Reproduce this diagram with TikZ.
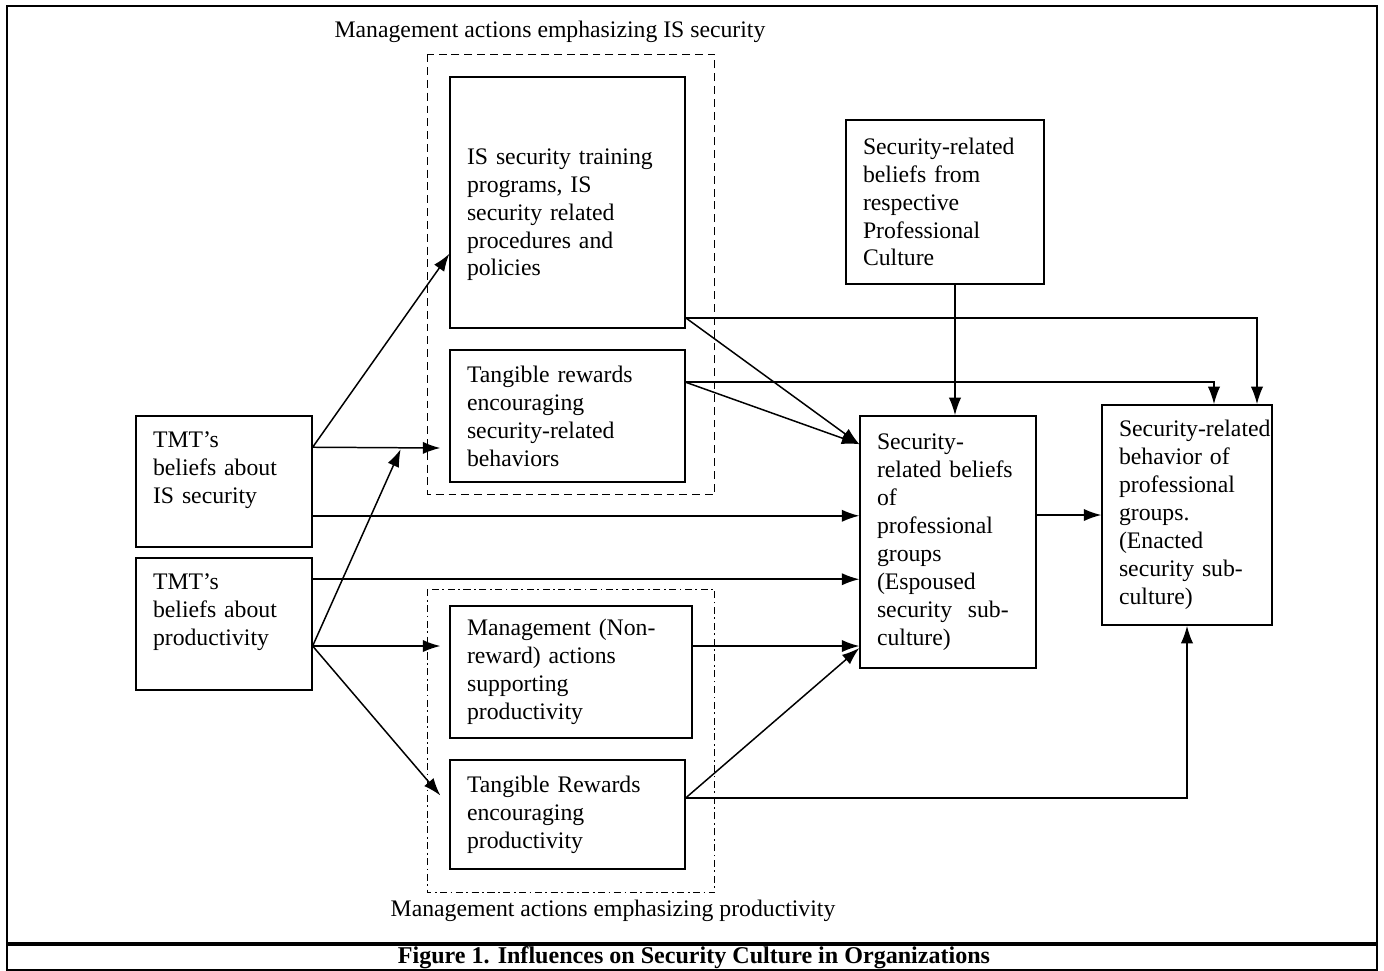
\documentclass[tikz,border=0pt]{standalone}
\usepackage{fontspec}
\setmainfont{Liberation Serif}
\usetikzlibrary{calc, arrows.meta}

\tikzset{
	box/.style={draw, line width=0.9pt, align=left, inner xsep=9.6pt, font=\fontsize{13.5}{15.9}\selectfont},
	link/.style={-{Latex[length=10pt,width=7pt]}, line width=0.85pt},
	secgroup/.style={line width=0.8pt, dash pattern=on 4.5pt off 2.8pt},
	prodgroup/.style={line width=0.8pt, dash pattern=on 4pt off 2pt on 1pt off 2pt},
	grouplabel/.style={font=\fontsize{13.5}{16}\selectfont}
}

\begin{document}
\begin{tikzpicture}[x=0.02cm, y=-0.02cm]
	\useasboundingbox (0,0) rectangle (1384,971);
	% Frame and caption
	\draw[line width=1.2pt] (7,6) rectangle (1377,970);
	\draw[line width=1.8pt] (7,944) -- (1377,944);
	\node[font=\bfseries\fontsize{13.7}{16}\selectfont] (caption) at (694,958) {Figure 1. Influences on Security Culture in Organizations};
	
	% Drawing the boxes
	\node[box, text width=2.84cm, minimum height=2.62cm] (tmtis) at (224,481.5) {TMT’s\\beliefs about\\IS security\\ \mbox{}};
	\node[box, text width=2.84cm, minimum height=2.64cm] (tmtprod) at (224,624) {TMT’s\\beliefs about\\productivity\\ \mbox{}};
	\node[box, text width=4.02cm, minimum height=5.02cm] (training) at (567.5,202.5) {\mbox{}\\[7pt]IS security training\\programs, IS\\security related\\procedures and\\policies};
	\node[box, text width=4.02cm, minimum height=2.64cm] (rewsec) at (567.5,416) {Tangible rewards\\encouraging\\security-related\\behaviors};
	\node[box, text width=4.16cm, minimum height=2.64cm] (nonrew) at (571,672) {Management (Non-\\reward) actions\\supporting\\productivity};
	\node[box, text width=4.02cm, minimum height=2.18cm] (rewprod) at (567.5,814.5) {Tangible Rewards\\encouraging\\productivity};
	\node[box, text width=3.28cm, minimum height=3.28cm] (profcult) at (945,202) {Security-related\\beliefs from\\respective\\Professional\\Culture};
	\node[box, text width=2.84cm, minimum height=5.04cm] (espoused) at (948,542) {Security-\\related beliefs\\of\\professional\\groups\\(Espoused\\security\ \ sub-\\culture)};
	\node[box, text width=2.72cm, minimum height=4.4cm] (enacted) at (1187,515) {\mbox{Security-related}\\behavior of\\professional\\groups.\\(Enacted\\security sub-\\culture)};
	
	% Drawing the groups and their labels
	\draw[secgroup] ($(training.north west)+(-22,-22)$) rectangle ($(rewsec.south east)+(29,12)$);
	\draw[prodgroup] ($(nonrew.north west)+(-22,-16)$) rectangle ($(rewprod.south east)+(29,23)$);
	\node[grouplabel] (seclabel) at (550,32) {Management actions emphasizing IS security};
	\node[grouplabel] (prodlabel) at (613,911) {Management actions emphasizing productivity};
	
	% Drawing the arrows from the beliefs of the TMT
	\coordinate (isout) at ($(tmtis.north east)+(0,32)$);
	\coordinate (isdirect) at ($(tmtis.south east)+(0,-32)$);
	\coordinate (join) at ($(isout)+(88,2)$);
	\coordinate (proddirect) at ($(tmtprod.north east)+(0,22)$);
	\coordinate (prodout) at ($(tmtprod.east)+(0,22)$);
	\draw[link] (isout) -- ($(training.south west)+(0,-75)$);
	\draw[link] (isout) -- ($(rewsec.west)+(-9,32)$);
	\draw[link] (isdirect) -- (isdirect -| espoused.west);
	\draw[link] (proddirect) -- (proddirect -| espoused.west);
	\draw[link] (prodout) -- (join);
	\draw[link] (prodout) -- ($(prodout -| nonrew.west)+(-9,0)$);
	\draw[link] (prodout) -- ($(rewprod.west)+(-9,-19)$);
	
	% Drawing the arrows from the management actions
	\coordinate (trainout) at ($(training.south east)+(0,-11)$);
	\coordinate (rewsecout) at ($(rewsec.north east)+(0,33)$);
	\coordinate (nonrewout) at ($(nonrew.east)+(0,-26)$);
	\coordinate (rewprodout) at ($(rewprod.east)+(0,-16.5)$);
	\draw[link] (trainout) -- ($(espoused.north west)+(0,29)$);
	\draw[link] (trainout) -| ($(enacted.north)+(70,0)$);
	\draw[link] (rewsecout) -- ($(espoused.north west)+(0,29)$);
	\draw[link] (rewsecout) -| ($(enacted.north)+(27,0)$);
	\draw[link] (nonrewout) -- (nonrewout -| espoused.west);
	\draw[link] (rewprodout) -- ($(espoused.west)+(0,106)$);
	\draw[link] (rewprodout) -| (enacted.south);
	
	% Drawing the arrows between the beliefs and the behavior
	\draw[link] ($(profcult.south)+(10,0)$) -- ($(espoused.north)+(7,0)$);
	\draw[link] (espoused.east |- enacted.west) -- (enacted.west);
\end{tikzpicture}
\end{document}
